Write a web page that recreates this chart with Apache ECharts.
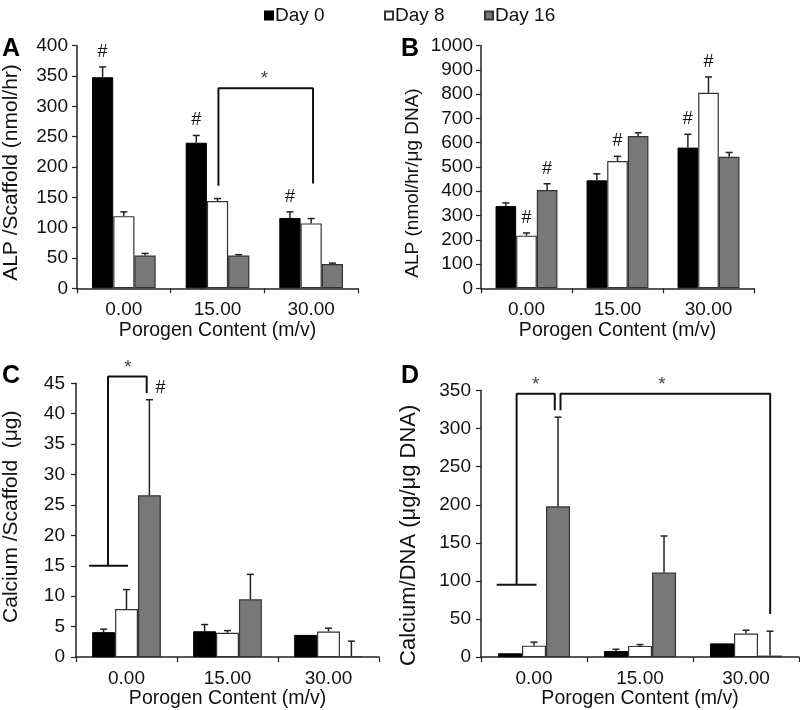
<!DOCTYPE html>
<html>
<head>
<meta charset="utf-8">
<script src="https://cdn.jsdelivr.net/npm/echarts@6/dist/echarts.min.js"></script>
<style>
html, body { margin: 0; padding: 0; background: #fff; }
#chart { width: 800px; height: 710px; }
</style>
</head>
<body>
<div id="chart"></div>
<script>
// categories and groups
var categories = ['0.00', '15.00', '30.00'];
var days = ['Day 0', 'Day 8', 'Day 16'];

// A: ALP / Scaffold (nmol/hr), one row per day
var alpScaffold = [[348, 240, 116], [119, 144, 107], [54, 54, 40]];
var alpScaffoldErr = [[17, 12, 10], [7, 4, 8], [3.5, 1.5, 1.5]];

// B: ALP (nmol/hr/ug DNA)
var alpDna = [[339, 445, 580], [217, 525, 806], [405, 628, 542]];
var alpDnaErr = [[13, 27, 55], [11, 19, 65], [26, 13, 18]];

// C: Calcium / Scaffold (ug)
var caScaffold = [[4.1, 4.25, 3.65], [7.9, 4.0, 4.2], [26.6, 9.5, 0.12]];
var caScaffoldErr = [[0.5, 1.1, 0], [3.2, 0.35, 0.55], [15.7, 4.1, 2.5]];

// D: Calcium / DNA (ug/ug DNA)
var caDna = [[5, 8, 18], [15, 14.7, 31], [198, 111, 2]];
var caDnaErr = [[0, 2.3, 0], [4.6, 1.7, 4.3], [117, 48, 32]];

// "#" marks: [day, category]
var hashA = [[0, 0], [0, 1], [0, 2]];
var hashB = [[1, 0], [2, 0], [1, 1], [0, 2], [1, 2]];
var hashC = [[2, 0]];
var hashD = [];

// significance brackets in (category units, value) pairs
var bracketsA = [[[1.51, 169], [1.51, 330], [2.52, 330], [2.52, 173]]];
var starsA = [[2.0, 330]];
var bracketsC = [[[0.13, 15], [0.515, 15]], [[0.317, 15], [0.317, 46.1], [0.70, 46.1], [0.70, 43.4]]];
var starsC = [[0.515, 46.1]];
var bracketsD = [[[0.148, 95], [0.524, 95]], [[0.336, 95], [0.336, 345.6], [0.696, 345.6], [0.696, 324]],
                 [[0.75, 324], [0.75, 345.6], [2.728, 345.6], [2.728, 56.5]]];
var starsD = [[0.517, 345.6], [1.706, 345.6]];

var FONT = 'Liberation Sans, Arial, sans-serif';
var CAT_GAP = 0.32;
var barStyles = [
    { color: '#000000', borderColor: '#000000', borderWidth: 1 },
    { color: '#ffffff', borderColor: '#333333', borderWidth: 1.2 },
    { color: '#787878', borderColor: '#333333', borderWidth: 1.2 }
];

var panels = [
    { grid: { left: 77, top: 45.7, width: 281, height: 242.6 }, max: 400, interval: 50,
      name: 'ALP /Scaffold (nmol/hr)', nameSize: 21, nameGap: 55, namePad: [0, 11, 0, 0], labelMargin: 9,
      values: alpScaffold, errors: alpScaffoldErr, hashes: hashA, hashDx: 0, hashDy: -15,
      brackets: bracketsA, stars: starsA, letter: 'A', letterPos: [2, 37] },
    { grid: { left: 481, top: 45.7, width: 273, height: 242.6 }, max: 1000, interval: 100,
      name: 'ALP (nmol/hr/\u03bcg DNA)', nameSize: 19, nameGap: 59, namePad: [0, 32, 0, 0], labelMargin: 8,
      values: alpDna, errors: alpDnaErr, hashes: hashB, hashDx: 0, hashDy: -15,
      brackets: [], stars: [], letter: 'B', letterPos: [401, 37] },
    { grid: { left: 76, top: 383.3, width: 303, height: 275.7 }, max: 45, interval: 5,
      name: 'Calcium /Scaffold  (\u03bcg)', nameSize: 21, nameGap: 54, namePad: [0, 0, 0, 7], labelMargin: 11,
      values: caScaffold, errors: caScaffoldErr, hashes: hashC, hashDx: 11, hashDy: -12,
      brackets: bracketsC, stars: starsC, letter: 'C', letterPos: [2, 364] },
    { grid: { left: 481, top: 390.5, width: 318, height: 267.8 }, max: 350, interval: 50,
      name: 'Calcium/DNA (\u03bcg/\u03bcg DNA)', nameSize: 22, nameGap: 61, namePad: [0, 23, 0, 0], labelMargin: 10,
      values: caDna, errors: caDnaErr, hashes: hashD, hashDx: 0, hashDy: -15,
      brackets: bracketsD, stars: starsD, letter: 'D', letterPos: [401, 364] }
];

function renderErrorBar(params, api) {
    var cat = api.value(0), val = api.value(1), err = api.value(2), k = api.value(3);
    var hash = api.value(4), dx = api.value(5), dy = api.value(6);
    var base = api.coord([cat, val]);
    var top = api.coord([cat, val + err]);
    var bw = api.size([1, 0])[0] * (1 - CAT_GAP) / 3;
    var x = base[0] + (k - 1) * bw;
    var children = [];
    if (err > 0) {
        children.push({ type: 'line', shape: { x1: x, y1: base[1], x2: x, y2: top[1] },
            style: { stroke: '#222', lineWidth: 1.5 } });
        children.push({ type: 'line', shape: { x1: x - 3.5, y1: top[1], x2: x + 3.5, y2: top[1] },
            style: { stroke: '#222', lineWidth: 1.5 } });
    }
    if (hash) {
        children.push({ type: 'text', x: x + dx, y: top[1] + dy,
            style: { text: '#', font: '18px ' + FONT, fill: '#111', align: 'center', verticalAlign: 'middle' } });
    }
    return { type: 'group', children: children };
}

var grids = [], xAxes = [], yAxes = [], series = [], graphics = [];

panels.forEach(function (p, i) {
    grids.push(p.grid);
    xAxes.push({
        type: 'category', gridIndex: i, data: categories,
        name: 'Porogen Content (m/v)', nameLocation: 'middle', nameGap: 29,
        nameTextStyle: { fontSize: 19.5, fontFamily: FONT, color: '#111' },
        axisLine: { lineStyle: { color: '#222', width: 1.5 } },
        axisTick: { show: true, length: 5, alignWithLabel: false, interval: 0, lineStyle: { color: '#222', width: 1.2 } },
        axisLabel: { fontSize: 19, fontFamily: FONT, color: '#111', margin: 12, interval: 0 },
        splitLine: { show: false }
    });
    xAxes.push({ type: 'value', gridIndex: i, min: 0, max: 3, show: false });
    yAxes.push({
        type: 'value', gridIndex: i, min: 0, max: p.max, interval: p.interval,
        name: p.name, nameLocation: 'middle', nameGap: p.nameGap,
        nameTextStyle: { fontSize: p.nameSize, fontFamily: FONT, color: '#111', padding: p.namePad },
        axisLine: { show: true, lineStyle: { color: '#222', width: 1.5 } },
        axisTick: { show: true, length: 5, lineStyle: { color: '#222', width: 1.2 } },
        axisLabel: { fontSize: 19, fontFamily: FONT, color: '#111', margin: p.labelMargin,
            formatter: function (v) { return String(v); } },
        splitLine: { show: false }
    });

    var errData = [];
    p.values.forEach(function (row, k) {
        series.push({
            type: 'bar', name: days[k], xAxisIndex: 2 * i, yAxisIndex: i,
            data: row, barGap: '0%', barCategoryGap: (CAT_GAP * 100) + '%',
            itemStyle: barStyles[k]
        });
        row.forEach(function (v, c) {
            var isHash = p.hashes.some(function (h) { return h[0] === k && h[1] === c; });
            errData.push([c, v, p.errors[k][c], k, isHash ? 1 : 0, p.hashDx, p.hashDy]);
        });
    });
    series.push({
        type: 'custom', name: 'err' + i, xAxisIndex: 2 * i, yAxisIndex: i, z: 5,
        renderItem: renderErrorBar, data: errData, clip: false,
        encode: { x: 0, y: 1 }
    });

    p.brackets.forEach(function (path) {
        series.push({
            type: 'line', xAxisIndex: 2 * i + 1, yAxisIndex: i, data: path,
            symbol: 'none', clip: false, z: 6,
            lineStyle: { color: '#111', width: 2 }
        });
    });
    if (p.stars.length) {
        series.push({
            type: 'scatter', xAxisIndex: 2 * i + 1, yAxisIndex: i, data: p.stars,
            symbolSize: 1, itemStyle: { color: 'rgba(0,0,0,0)' }, clip: false, z: 6,
            label: { show: true, formatter: '*', position: 'inside', offset: [0, -9],
                fontSize: 19, fontFamily: FONT, color: '#111' }
        });
    }

    graphics.push({
        type: 'text', left: p.letterPos[0], top: p.letterPos[1],
        style: { text: p.letter, font: 'bold 25px ' + FONT, fill: '#000' }
    });
});

var legendLeft = [259, 379, 479];
var legends = days.map(function (d, k) {
    return {
        data: [d], left: legendLeft[k], top: 1, icon: 'rect',
        itemWidth: 8, itemHeight: 8, itemGap: 0,
        textStyle: { fontSize: 19, fontFamily: FONT, color: '#111', padding: [0, 0, 0, -3] }
    };
});

var chart = echarts.init(document.getElementById('chart'));
chart.setOption({
    animation: false,
    backgroundColor: '#fff',
    legend: legends,
    grid: grids,
    xAxis: xAxes,
    yAxis: yAxes,
    series: series,
    graphic: graphics
});
</script>
</body>
</html>
